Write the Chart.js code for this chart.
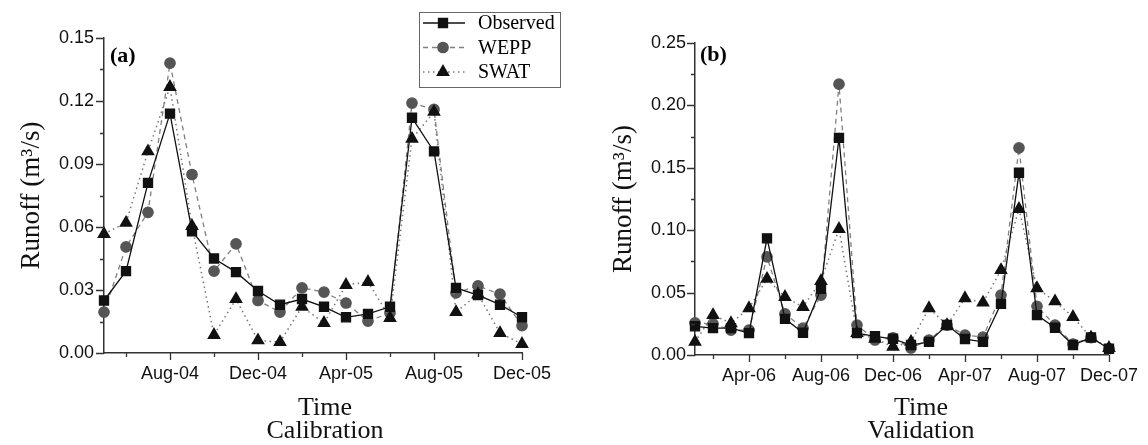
<!DOCTYPE html>
<html>
<head>
<meta charset="utf-8">
<script src="https://cdn.jsdelivr.net/npm/chart.js@4.4.1/dist/chart.umd.min.js"></script>
<style>
  body { margin: 0; background: #fff; }
  .panel { position: absolute; top: 0; width: 574px; height: 445px; }
</style>
</head>
<body>
<div class="panel" style="left:0"><canvas id="calChart" width="574" height="445"></canvas></div>
<div class="panel" style="left:574px"><canvas id="valChart" width="574" height="445"></canvas></div>
<script>
// Calibration period, May-04 .. Dec-05
const calMonths = ['May-04', 'Jun-04', 'Jul-04', 'Aug-04', 'Sep-04', 'Oct-04', 'Nov-04', 'Dec-04',
  'Jan-05', 'Feb-05', 'Mar-05', 'Apr-05', 'May-05', 'Jun-05', 'Jul-05', 'Aug-05',
  'Sep-05', 'Oct-05', 'Nov-05', 'Dec-05'];
const calObserved = [0.025, 0.039, 0.081, 0.114, 0.058, 0.045, 0.0385, 0.0295, 0.023, 0.0257,
  0.022, 0.017, 0.0186, 0.022, 0.112, 0.096, 0.031, 0.0276, 0.023, 0.017];
const calWepp = [0.0195, 0.0505, 0.067, 0.138, 0.085, 0.039, 0.052, 0.025, 0.0195, 0.031,
  0.029, 0.0238, 0.0152, 0.019, 0.119, 0.116, 0.0286, 0.032, 0.028, 0.013];
const calSwat = [0.0567, 0.062, 0.096, 0.1267, 0.0605, 0.0086, 0.0257, 0.006, 0.0052, 0.022,
  0.0143, 0.0324, 0.0338, 0.0167, 0.102, 0.1148, 0.0195, 0.028, 0.0095, 0.0043];

// Validation period, Jan-06 .. Dec-07
const valMonths = ['Jan-06', 'Feb-06', 'Mar-06', 'Apr-06', 'May-06', 'Jun-06', 'Jul-06', 'Aug-06',
  'Sep-06', 'Oct-06', 'Nov-06', 'Dec-06', 'Jan-07', 'Feb-07', 'Mar-07', 'Apr-07',
  'May-07', 'Jun-07', 'Jul-07', 'Aug-07', 'Sep-07', 'Oct-07', 'Nov-07', 'Dec-07'];
const valObserved = [0.023, 0.0215, 0.0215, 0.0175, 0.0935, 0.029, 0.0178, 0.053, 0.174, 0.0175,
  0.015, 0.013, 0.008, 0.0105, 0.024, 0.0128, 0.0105, 0.041, 0.146, 0.032,
  0.0218, 0.008, 0.014, 0.005];
const valWepp = [0.0257, 0.025, 0.020, 0.020, 0.0787, 0.033, 0.0215, 0.048, 0.217, 0.024,
  0.012, 0.0137, 0.0056, 0.012, 0.024, 0.016, 0.0143, 0.048, 0.166, 0.039,
  0.024, 0.0088, 0.014, 0.005];
const valSwat = [0.0105, 0.032, 0.0255, 0.0375, 0.061, 0.0465, 0.0385, 0.0593, 0.101, 0.0175,
  0.013, 0.0066, 0.0105, 0.0375, 0.024, 0.0455, 0.042, 0.068, 0.117, 0.0535,
  0.043, 0.0305, 0.014, 0.0056];

const SANS = "'Liberation Sans', Arial, sans-serif";
const SERIF = "'Liberation Serif', 'Times New Roman', serif";
const AXIS = '#333';

function makeDatasets(obs, wepp, swat) {
  return [
    { label: 'Observed', data: obs, borderColor: '#111', backgroundColor: '#111', borderWidth: 1.3,
      pointStyle: 'rect', pointRadius: 6.4, pointHoverRadius: 6.4, clip: false, order: 1 },
    { label: 'WEPP', data: wepp, borderColor: '#808080', backgroundColor: '#555', borderWidth: 1.3,
      borderDash: [5, 4], pointStyle: 'circle', pointRadius: 5.2, pointHoverRadius: 5.2,
      pointBorderColor: '#555', clip: false, order: 3 },
    { label: 'SWAT', data: swat, borderColor: '#777', backgroundColor: '#111', borderWidth: 1.5,
      borderDash: [1.5, 3.5], pointStyle: 'triangle', pointRadius: 6.4, pointHoverRadius: 6.4,
      pointBorderColor: '#111', clip: false, order: 2 }
  ];
}

// tick marks (long/short), panel letter, x title and in-plot legend
const decor = {
  id: 'decor',
  afterDraw(chart, args, opts) {
    const ctx = chart.ctx;
    const area = chart.chartArea;
    const xs = chart.scales.x, ys = chart.scales.y;
    ctx.save();
    ctx.strokeStyle = AXIS;
    ctx.lineWidth = 1.3;
    ctx.beginPath();
    ys.ticks.forEach(t => {
      const py = Math.round(ys.getPixelForValue(t.value)) + 0.5;
      const len = t.label ? 8 : 4;
      ctx.moveTo(area.left, py);
      ctx.lineTo(area.left - len, py);
    });
    chart.data.labels.forEach((lab, i) => {
      if (i % 2 === 0) return;
      const px = Math.round(xs.getPixelForValue(i)) + 0.5;
      const len = i % 4 === 3 ? 7 : 4;
      ctx.moveTo(px, area.bottom);
      ctx.lineTo(px, area.bottom + len);
    });
    ctx.stroke();

    ctx.fillStyle = '#000';
    ctx.font = 'bold 22px ' + SERIF;
    ctx.textBaseline = 'top';
    ctx.textAlign = 'left';
    ctx.fillText(opts.letter, area.left + opts.letterDx, area.top + opts.letterDy);

    ctx.fillStyle = '#111';
    ctx.font = '26px ' + SERIF;
    ctx.textAlign = 'center';
    ctx.textBaseline = 'alphabetic';
    const cx = (area.left + area.right) / 2 + opts.titleDx;
    ctx.fillText('Time', cx, 415);
    ctx.fillText(opts.period, cx, 438);

    if (opts.legend) {
      const bx = area.right - 103, by = area.top - 26, bw = 141, bh = 75;
      ctx.textAlign = 'left';
      ctx.strokeStyle = '#666';
      ctx.lineWidth = 1;
      ctx.strokeRect(bx + 0.5, by + 0.5, bw, bh);
      ctx.font = '20px ' + SERIF;
      ctx.textBaseline = 'middle';
      chart.data.datasets.forEach((ds, i) => {
        const y = by + 11 + i * 24.5;
        ctx.strokeStyle = ds.borderColor;
        ctx.lineWidth = ds.borderWidth;
        ctx.setLineDash(ds.borderDash || []);
        ctx.beginPath();
        ctx.moveTo(bx + 4, y);
        ctx.lineTo(bx + 46, y);
        ctx.stroke();
        ctx.setLineDash([]);
        ctx.fillStyle = ds.backgroundColor;
        ctx.strokeStyle = ds.pointBorderColor || ds.borderColor;
        Chart.helpers.drawPoint(ctx, { pointStyle: ds.pointStyle, radius: ds.pointRadius, rotation: 0, borderWidth: 1 }, bx + 24, y);
        ctx.fillStyle = '#000';
        ctx.fillText(ds.label, bx + 59, y + 1);
      });
    }
    ctx.restore();
  }
};

function makeChart(id, months, obs, wepp, swat, cfg) {
  return new Chart(document.getElementById(id), {
    type: 'line',
    data: { labels: months, datasets: makeDatasets(obs, wepp, swat) },
    plugins: [decor],
    options: {
      responsive: false,
      animation: false,
      layout: { padding: { left: 0, top: cfg.top, right: cfg.right, bottom: 0 } },
      plugins: {
        legend: { display: false },
        tooltip: { enabled: false },
        decor: { letter: cfg.letter, letterDx: cfg.letterDx, letterDy: cfg.letterDy, legend: cfg.legend,
          period: cfg.period, titleDx: cfg.titleDx }
      },
      elements: { line: { tension: 0 } },
      scales: {
        x: {
          offset: false,
          afterFit(scale) { scale.height = cfg.xHeight; },
          border: { color: AXIS, width: 1.5 },
          grid: { drawOnChartArea: false, drawTicks: false },
          ticks: {
            autoSkip: false, maxRotation: 0, minRotation: 0, padding: 10,
            color: '#111', font: { family: SANS, size: 18 },
            callback: (v, i) => (i % 4 === 3 ? months[i] : '')
          }
        },
        y: {
          min: 0, max: cfg.yMax,
          afterFit(scale) { scale.width = cfg.yWidth; },
          border: { color: AXIS, width: 1.5 },
          grid: { drawOnChartArea: false, drawTicks: false },
          ticks: {
            stepSize: cfg.yStep / 2, padding: cfg.yPad, color: '#111',
            font: { family: SANS, size: 18 },
            callback: v => (Math.round(v / (cfg.yStep / 2)) % 2 === 0 ? v.toFixed(2) : '')
          },
          title: {
            display: true, text: 'Runoff (m\u00b3/s)', color: '#111',
            font: { family: SERIF, size: 27, lineHeight: 1.0 }, padding: { top: cfg.titlePad, bottom: 0 }
          }
        }
      }
    }
  });
}

makeChart('calChart', calMonths, calObserved, calWepp, calSwat, {
  top: 38, right: 52, xHeight: 92, yWidth: 104, yMax: 0.15, yStep: 0.03, yPad: 10, titlePad: 18.5,
  letter: '(a)', letterDx: 6, letterDy: 7, legend: true, period: 'Calibration', titleDx: 12
});
makeChart('valChart', valMonths, valObserved, valWepp, valSwat, {
  top: 43, right: 35, xHeight: 90, yWidth: 121, yMax: 0.25, yStep: 0.05, yPad: 9, titlePad: 36.5,
  letter: '(b)', letterDx: 5, letterDy: 1, legend: false, period: 'Validation', titleDx: 19
});
</script>
</body>
</html>
